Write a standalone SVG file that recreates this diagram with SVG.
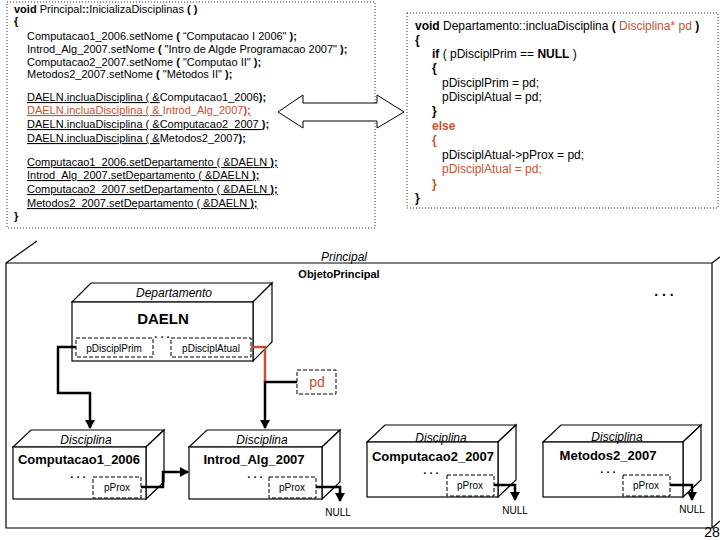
<svg xmlns="http://www.w3.org/2000/svg" width="720" height="540" viewBox="0 0 720 540">
<style>
text{font-family:"Liberation Sans",Arial,sans-serif;fill:#000}
.code{font-size:11px}
.code2{font-size:12px}
.r{fill:#C8502D}
.b{font-weight:bold}
.u{text-decoration:underline}
.dot{fill:none;stroke:#333;stroke-width:1;stroke-dasharray:1,2}
.box{fill:#fff;stroke:#000;stroke-width:1.2}
.dash{fill:#fff;stroke:#000;stroke-width:1;stroke-dasharray:4,2}
.ln{fill:none;stroke:#000;stroke-width:1.2}
.con{fill:none;stroke:#000;stroke-width:2.5}
.conr{fill:none;stroke:#C8502D;stroke-width:2.5}
.it{font-style:italic;font-size:12px}
.nm{font-weight:bold;font-size:13px}
.fld{font-size:10px}
.null{font-size:10px}
</style>
<defs>
<marker id="ah" markerUnits="userSpaceOnUse" markerWidth="10" markerHeight="10" refX="8" refY="5" orient="auto">
<path d="M0,0 L9,5 L0,10 z" fill="#000"/>
</marker>
</defs>

<g id="code-principal">
<rect class="dot" x="7" y="2" width="368" height="226"/>
<text class="code" x="14" y="13"><tspan class="b">void</tspan> Principal<tspan class="b">::</tspan>InicializaDisciplinas <tspan class="b">( )</tspan></text>
<text class="code b" x="14" y="25">{</text>
<text class="code" x="27" y="40">Computacao1_2006.setNome <tspan class="b">(</tspan> “Computacao I 2006" <tspan class="b">);</tspan></text>
<text class="code" x="27" y="53">Introd_Alg_2007.setNome <tspan class="b">(</tspan> "Intro de Algde Programacao 2007" <tspan class="b">);</tspan></text>
<text class="code" x="27" y="66">Computacao2_2007.setNome <tspan class="b">(</tspan> "Computao II" <tspan class="b">);</tspan></text>
<text class="code" x="27" y="78">Metodos2_2007.setNome <tspan class="b">(</tspan> "Métodos II" <tspan class="b">);</tspan></text>
<text class="code" x="27" y="101"><tspan class="u">DAELN.incluaDisciplina ( &amp;</tspan>Computacao1_2006<tspan class="u b">);</tspan></text>
<text class="code r" x="27" y="114"><tspan class="u">DAELN.incluaDisciplina ( &amp; </tspan>Introd_Alg_2007<tspan class="u b">);</tspan></text>
<text class="code u" x="27" y="128">DAELN.incluaDisciplina ( &amp;Computacao2_2007 <tspan class="b">);</tspan></text>
<text class="code" x="27" y="142"><tspan class="u">DAELN.incluaDisciplina ( &amp;</tspan>Metodos2_2007<tspan class="u b">);</tspan></text>
<text class="code u" x="27" y="166">Computacao1_2006.setDepartamento ( &amp;DAELN <tspan class="b">);</tspan></text>
<text class="code u" x="27" y="179">Introd_Alg_2007.setDepartamento ( &amp;DAELN <tspan class="b">);</tspan></text>
<text class="code u" x="27" y="193">Computacao2_2007.setDepartamento ( &amp;DAELN <tspan class="b">);</tspan></text>
<text class="code u" x="27" y="207">Metodos2_2007.setDepartamento ( &amp;DAELN <tspan class="b">);</tspan></text>
<text class="code b" x="14" y="220">}</text>
</g>

<g id="code-departamento">
<rect class="dot" x="407" y="13" width="311" height="195"/>
<text class="code2" x="415" y="30"><tspan class="b">void</tspan> Departamento::incluaDisciplina <tspan class="b">(</tspan> <tspan class="r">Disciplina* pd</tspan> <tspan class="b">)</tspan></text>
<text class="code2 b" x="415" y="44">{</text>
<text class="code2" x="432" y="58"><tspan class="b">if</tspan> ( pDisciplPrim == <tspan class="b">NULL</tspan> )</text>
<text class="code2 b" x="432" y="72">{</text>
<text class="code2" x="442" y="87">pDisciplPrim  = pd;</text>
<text class="code2" x="442" y="101">pDisciplAtual = pd;</text>
<text class="code2 b" x="432" y="115">}</text>
<text class="code2 b r" x="432" y="130">else</text>
<text class="code2 b r" x="432" y="144">{</text>
<text class="code2" x="442" y="159">pDisciplAtual-&gt;pProx = pd;</text>
<text class="code2 r" x="442" y="173">pDisciplAtual = pd;</text>
<text class="code2 b r" x="432" y="188">}</text>
<text class="code2 b" x="415" y="202">}</text>
</g>

<g id="block-arrow">
<polygon points="278,112 303,95 303,103 377,103 377,95 404,112 377,128 377,121 303,121 303,128" fill="#fff" stroke="#000" stroke-width="1"/>
</g>

<g id="principal">
<path class="ln" d="M6,528 L6,263 L712,263 L712,528 Z M6,263 L37,241 M712,263 L720,257 M712,528 L720,521"/>
<text class="it" x="344" y="261" text-anchor="middle">Principal</text>
<text class="b" x="339" y="278" font-size="11" text-anchor="middle">ObjetoPrincipal</text>
<text class="b" x="664" y="296" font-size="14" text-anchor="middle">. . .</text>
<text x="712" y="537" font-size="14" text-anchor="middle">28</text>
</g>

<g id="daeln">
<polygon class="box" points="72,302 91,283 272,283 253,302"/>
<polygon class="box" points="253,302 272,283 272,342 253,361"/>
<rect class="box" x="72" y="302" width="181" height="59"/>
<text class="it" x="174" y="297" text-anchor="middle">Departamento</text>
<text x="163" y="324" font-size="15" font-weight="bold" text-anchor="middle">DAELN</text>
<rect class="dash" x="76" y="338" width="77" height="19"/>
<text class="fld" x="114" y="352" text-anchor="middle">pDisciplPrim</text>
<text class="b" x="162" y="338" font-size="11" text-anchor="middle">. . .</text>
<rect class="dash" x="171" y="338" width="80" height="19"/>
<text class="fld" x="211" y="352" text-anchor="middle">pDisciplAtual</text>
</g>

<g id="pd">
<rect class="dash" x="297" y="370" width="39" height="24"/>
<text class="r" x="317" y="387" font-size="14" text-anchor="middle">pd</text>
</g>

<g id="computacao1">
<polygon class="box" points="13,447 31,430 164,430 146,447"/>
<polygon class="box" points="146,447 164,430 164,482 146,499"/>
<rect class="box" x="13" y="447" width="133" height="52"/>
<text class="it" x="86" y="444" text-anchor="middle">Disciplina</text>
<text class="nm" x="79" y="464" text-anchor="middle">Computacao1_2006</text>
<text class="b" x="78" y="478" font-size="11" text-anchor="middle">. . .</text>
<rect class="dash" x="93" y="477" width="48" height="21"/>
<text class="fld" x="117" y="491" text-anchor="middle">pProx</text>
</g>

<g id="introd">
<polygon class="box" points="189,447 207,430 340,430 322,447"/>
<polygon class="box" points="322,447 340,430 340,482 322,499"/>
<rect class="box" x="189" y="447" width="133" height="52"/>
<text class="it" x="262" y="444" text-anchor="middle">Disciplina</text>
<text class="nm" x="254" y="464" text-anchor="middle">Introd_Alg_2007</text>
<text class="b" x="255" y="478" font-size="11" text-anchor="middle">. . .</text>
<rect class="dash" x="269" y="477" width="47" height="21"/>
<text class="fld" x="292" y="491" text-anchor="middle">pProx</text>
</g>

<g id="computacao2">
<polygon class="box" points="367,442 385,425 516,425 498,442"/>
<polygon class="box" points="498,442 516,425 516,480 498,497"/>
<rect class="box" x="367" y="442" width="131" height="55"/>
<text class="it" x="441" y="442" text-anchor="middle">Disciplina</text>
<text class="nm" x="433" y="461" text-anchor="middle">Computacao2_2007</text>
<text class="b" x="431" y="474" font-size="11" text-anchor="middle">. . .</text>
<rect class="dash" x="447" y="475" width="47" height="21"/>
<text class="fld" x="470" y="489" text-anchor="middle">pProx</text>
</g>

<g id="metodos2">
<polygon class="box" points="543,442 561,425 701,425 683,442"/>
<polygon class="box" points="683,442 701,425 701,480 683,497"/>
<rect class="box" x="543" y="442" width="140" height="55"/>
<text class="it" x="617" y="441" text-anchor="middle">Disciplina</text>
<text class="nm" x="608" y="460" text-anchor="middle">Metodos2_2007</text>
<text class="b" x="608" y="473" font-size="11" text-anchor="middle">. . .</text>
<rect class="dash" x="623" y="475" width="47" height="21"/>
<text class="fld" x="646" y="489" text-anchor="middle">pProx</text>
</g>

<g id="connectors">
<polyline class="con" points="76,347 58,347 58,393 90,393 90,428" marker-end="url(#ah)"/>
<polyline class="conr" points="251,347 265,347 265,382"/>
<polyline class="con" points="265,381 265,428" marker-end="url(#ah)"/>
<polyline class="con" points="265,382 297,382"/>
<polyline class="con" points="141,487 163,487 163,472 188,472" marker-end="url(#ah)"/>
<polyline class="con" points="316,487 340,487 340,501" marker-end="url(#ah)"/>
<polyline class="con" points="494,485 515,485 515,500" marker-end="url(#ah)"/>
<polyline class="con" points="670,485 692,485 692,500" marker-end="url(#ah)"/>
<text class="null" x="338" y="516" text-anchor="middle">NULL</text>
<text class="null" x="515" y="514" text-anchor="middle">NULL</text>
<text class="null" x="692" y="513" text-anchor="middle">NULL</text>
</g>
</svg>
